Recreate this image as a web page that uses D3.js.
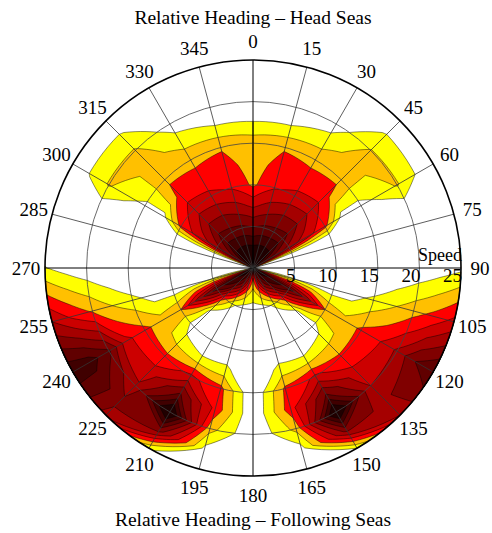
<!DOCTYPE html>
<html>
<head>
<meta charset="utf-8">
<script src="https://cdn.jsdelivr.net/npm/d3@7"></script>
<style>
  body { margin: 0; background: #fff; }
  svg text { font-family: "Liberation Serif", "Times New Roman", Times, serif; fill: #000; }
</style>
</head>
<body>
<svg id="chart" width="492" height="533"></svg>
<script>
// relative heading (deg) and ship speed (knots) of the grid
const headings = [0, 15, 30, 45, 60, 75, 90, 105, 120, 135, 150, 165,
                  180, 195, 210, 225, 240, 255, 270, 285, 300, 315, 330, 345];
const speeds = [0, 2.5, 5, 7.5, 10, 12.5, 15, 17.5, 20, 22.5, 25];
const speedTicks = [5, 10, 15, 20, 25];

// contour levels and their fill colours
const thresholds = [1, 2, 3, 4, 5, 6, 7, 8, 9];
const levelColors = ["#ffff00", "#ffc000", "#ff0000", "#cc0000", "#a50000",
                     "#800000", "#600000", "#400000", "#200000"];

// level, one row per heading, one value per speed
const grid = [
  [10.5, 9.2, 6.9, 4.8, 2.8, 2.5, 2.6, 1.05, 0, 0, 0],        // 0
  [10.5, 9.3, 7.2, 5.4, 3.9, 3.4, 2.9, 1.1, 0, 0, 0],         // 15
  [10.5, 9.3, 7.3, 5.9, 4.2, 3.5, 2.6, 1.6, 0.4, 0, 0],       // 30
  [10.5, 9.2, 7.5, 6.0, 4.5, 3.4, 2.8, 2.4, 2.05, 1.1, 0],    // 45
  [8.5, 7.0, 5.6, 4.4, 3.3, 0.5, 0.6, 1.3, 2.1, 1.0, 0],      // 60
  [-2.8, -2.5, -2.2, -2.3, -2.5, -1.5, -1, -1, -1, -0.8, -0.5], // 75
  [-2.5, -2, -1.5, -1.2, -1.2, -1.1, -1, -0.15, 0.15, 0.45, 0.75], // 90
  [2.5, 1.7, 1.1, 0.5, 0.3, 0.6, 1.3, 1.9, 2.6, 3.3, 4.3],    // 105
  [10, 8.8, 7.5, 5.5, 3.0, 2.3, 3.2, 3.9, 5.2, 7.0, 8.0],     // 120
  [9.5, 7.8, 3.6, 0.6, 0.3, 1.8, 3.2, 4.3, 5.0, 5.8, 5.0],    // 135
  [9, 6, 1.2, 0.2, 0.3, 1.1, 4.2, 7.0, 10.5, 6.4, 1.0],       // 150
  [7, 3.5, 0.5, 0.1, 0.1, 1.3, 3.2, 3.6, 2.3, 0.6, 0],        // 165
  [4, 2, 0.5, 0, 0, 0, 0, 0, 0, 0, 0],                        // 180
  [7, 3.5, 0.5, 0.1, 0.1, 1.2, 3.3, 3.7, 2.4, 0.7, 0],        // 195
  [9, 6, 1.2, 0.2, 0.3, 1.1, 4.3, 7.1, 10.5, 6.5, 1.1],       // 210
  [9.5, 7.8, 3.6, 0.6, 0.3, 1.7, 3.3, 4.4, 5.2, 6.3, 5.6],    // 225
  [10, 8.8, 7.5, 5.5, 3.0, 2.4, 3.3, 4.3, 7.2, 8.5, 8.8],     // 240
  [2.5, 1.7, 1.1, 0.5, 0.3, 0.5, 1.4, 2.0, 2.9, 3.8, 5.0],    // 255
  [-2.5, -2, -1.5, -1.2, -1.2, -1.1, -1, -0.1, 0.25, 0.6, 1.05], // 270
  [-2.8, -2.5, -2.2, -2.3, -2.5, -1.5, -1, -1, -1, -0.8, -0.5], // 285
  [8.5, 7.0, 5.6, 4.4, 3.3, 0.6, 0.7, 1.4, 2.1, 1.1, 0],      // 300
  [10.5, 9.2, 7.5, 6.0, 4.5, 3.4, 2.8, 2.4, 2.1, 1.1, 0],     // 315
  [10.5, 9.3, 7.3, 5.9, 4.2, 3.5, 2.6, 1.6, 0.4, 0, 0],       // 330
  [10.5, 9.3, 7.2, 5.4, 3.9, 3.4, 2.9, 1.1, 0, 0, 0]          // 345
];

const cx = 253, cy = 268, R = 208;
const svg = d3.select("#chart");

const rScale = d3.scaleLinear().domain([0, speeds[speeds.length - 1]]).range([0, R]);

// flatten the grid (speed rows, heading columns), repeating 0 deg as 360
const nh = headings.length + 1;
const ns = speeds.length;
const values = [];
for (let j = 0; j < ns; j++)
  for (let i = 0; i < nh; i++)
    values.push(grid[i % headings.length][j]);

// contour coords -> heading / speed
const xToHeading = d3.scaleLinear().domain([0.5, nh - 0.5]).range([0, 360]).clamp(true);
const yToSpeed = d3.scaleLinear().domain([0.5, ns - 0.5])
  .range([speeds[0], speeds[ns - 1]]).clamp(true);

function project(p) {
  const a = xToHeading(p[0]) * Math.PI / 180;
  const r = rScale(yToSpeed(p[1]));
  return [cx + r * Math.sin(a), cy - r * Math.cos(a)];
}

// split each edge so rings follow the arcs once bent into polar space
function ringPath(ring) {
  const pts = [];
  for (let k = 0; k < ring.length - 1; k++) {
    const p0 = ring[k], p1 = ring[k + 1];
    for (let t = 0; t < 6; t++) {
      pts.push(project([p0[0] + (p1[0] - p0[0]) * t / 6, p0[1] + (p1[1] - p0[1]) * t / 6]));
    }
  }
  return "M" + pts.map(p => p[0].toFixed(2) + "," + p[1].toFixed(2)).join("L") + "Z";
}

const contours = d3.contours().size([nh, ns]).thresholds(thresholds)(values);

svg.append("g")
  .selectAll("path")
  .data(contours)
  .join("path")
  .attr("d", d => d.coordinates.map(poly => poly.map(ringPath).join("")).join(""))
  .attr("fill", (d, i) => levelColors[i])
  .attr("fill-rule", "evenodd")
  .attr("stroke", "#000")
  .attr("stroke-width", 0.6)
  .attr("stroke-opacity", 0.75);

// speed rings
svg.append("g")
  .selectAll("circle")
  .data(speedTicks.slice(0, -1))
  .join("circle")
  .attr("cx", cx).attr("cy", cy)
  .attr("r", d => rScale(d))
  .attr("fill", "none")
  .attr("stroke", "#444")
  .attr("stroke-width", 0.8);

// heading spokes
svg.append("g")
  .selectAll("line")
  .data(headings)
  .join("line")
  .attr("x1", cx).attr("y1", cy)
  .attr("x2", d => cx + R * Math.sin(d * Math.PI / 180))
  .attr("y2", d => cy - R * Math.cos(d * Math.PI / 180))
  .attr("stroke", d => d % 90 === 0 ? "#000" : "#333")
  .attr("stroke-width", d => d % 90 === 0 ? 1 : 0.8);

svg.append("circle")
  .attr("cx", cx).attr("cy", cy).attr("r", R)
  .attr("fill", "none")
  .attr("stroke", "#000")
  .attr("stroke-width", 1.6);

// heading labels
svg.append("g")
  .selectAll("text")
  .data(headings)
  .join("text")
  .attr("x", d => cx + (R + 19) * Math.sin(d * Math.PI / 180))
  .attr("y", d => cy - (R + 19) * Math.cos(d * Math.PI / 180))
  .attr("text-anchor", "middle")
  .attr("dominant-baseline", "central")
  .attr("font-size", 19)
  .text(d => d);

// speed labels
svg.append("g")
  .selectAll("text")
  .data(speedTicks)
  .join("text")
  .attr("x", d => cx + rScale(d) + 1)
  .attr("y", cy + 14)
  .attr("text-anchor", "end")
  .attr("font-size", 19)
  .text(d => d);

svg.append("text")
  .attr("x", cx + R + 1).attr("y", cy - 7)
  .attr("text-anchor", "end")
  .attr("font-size", 18)
  .text("Speed");

svg.append("text")
  .attr("x", cx).attr("y", 23.5)
  .attr("text-anchor", "middle")
  .attr("font-size", 19.5)
  .text("Relative Heading \u2013 Head Seas");

svg.append("text")
  .attr("x", cx).attr("y", 526)
  .attr("text-anchor", "middle")
  .attr("font-size", 19.5)
  .text("Relative Heading \u2013 Following Seas");
</script>
</body>
</html>
